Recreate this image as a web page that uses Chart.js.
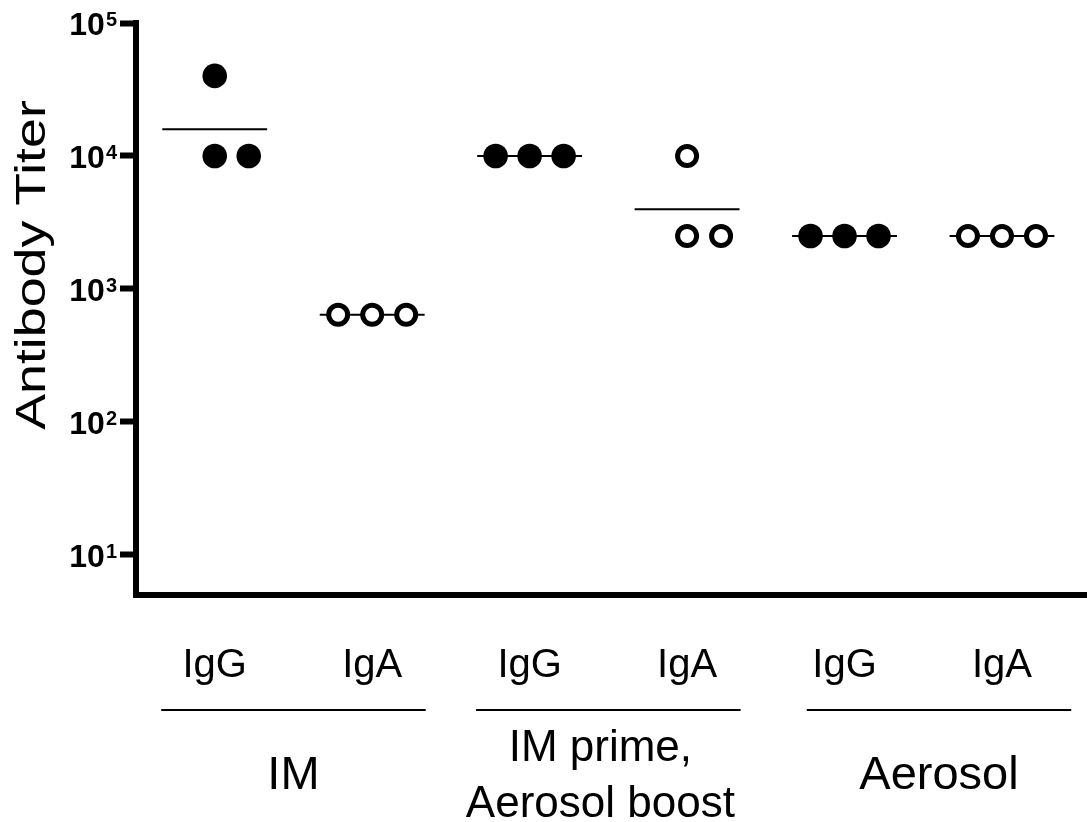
<!DOCTYPE html>
<html>
<head>
<meta charset="utf-8">
<script src="https://cdn.jsdelivr.net/npm/chart.js@4.4.1/dist/chart.umd.min.js"></script>
<style>
  html, body { margin: 0; padding: 0; background: #fff; overflow: hidden; }
  #wrap { width: 1087px; height: 822px; position: relative; }
  #c { display: block; }
</style>
</head>
<body>
<div id="wrap"><canvas id="c"></canvas></div>
<script>
// antibody titers, three animals per column
const categories = ['IgG', 'IgA', 'IgG', 'IgA', 'IgG', 'IgA'];
const groups = ['IM', 'IM prime,\nAerosol boost', 'Aerosol'];
// where each group bracket is centred, in column units
const groupMid = [0.5, 2.5, 4.6];
const titers = [
  [40000, 10000, 10000],
  [640, 640, 640],
  [10000, 10000, 10000],
  [10000, 2500, 2500],
  [2500, 2500, 2500],
  [2500, 2500, 2500]
];
// side-by-side slot of each point inside its column (-1, 0, +1)
const slots = [
  [0, 0, 1],
  [-1, 0, 1],
  [-1, 0, 1],
  [0, 0, 1],
  [-1, 0, 1],
  [-1, 0, 1]
];
const filled = [true, false, true, false, true, false];
const yTicks = [10, 100, 1000, 10000, 100000];

const FONT = '"Liberation Sans", Arial, Helvetica, sans-serif';
const SLOT = 0.216;      // x units between neighbouring points
const MEAN_HALF = 0.333; // half length of the mean bar

function geoMean(arr) {
  return Math.pow(10, arr.reduce((s, v) => s + Math.log10(v), 0) / arr.length);
}

const datasets = [];
titers.forEach((vals, i) => {
  datasets.push({
    type: 'scatter',
    data: vals.map((v, k) => ({ x: i + slots[i][k] * SLOT, y: v })),
    pointRadius: filled[i] ? 12.3 : 9.5,
    pointBorderWidth: filled[i] ? 0 : 5,
    pointBackgroundColor: filled[i] ? '#000' : '#fff',
    pointBorderColor: '#000',
    order: 0
  });
  const gm = geoMean(vals);
  datasets.push({
    type: 'line',
    data: [{ x: i - MEAN_HALF, y: gm }, { x: i + MEAN_HALF, y: gm }],
    borderColor: '#000',
    borderWidth: 2,
    pointRadius: 0,
    order: 1
  });
});

// labels, brackets and the 10^n tick text below / left of the axes
const annotations = {
  id: 'annotations',
  afterDraw(chart) {
    const { ctx, scales: { x, y } } = chart;
    const bottom = chart.chartArea.bottom;
    ctx.save();
    ctx.fillStyle = '#000';
    ctx.strokeStyle = '#000';

    // y tick labels
    yTicks.forEach(v => {
      const py = y.getPixelForValue(v);
      const exp = String(Math.round(Math.log10(v)));
      const supRight = y.right - 19;
      ctx.textAlign = 'right';
      ctx.textBaseline = 'alphabetic';
      ctx.font = 'bold 20px ' + FONT;
      const ew = ctx.measureText(exp).width;
      ctx.fillText(exp, supRight, py + 3);
      ctx.font = 'bold 32px ' + FONT;
      ctx.fillText('10', supRight - ew - 1, py + 12);
    });

    // y title (stretched along its length like the source figure)
    ctx.save();
    ctx.translate(45, 265);
    ctx.rotate(-Math.PI / 2);
    ctx.scale(1.28, 1);
    ctx.font = '42px ' + FONT;
    ctx.textAlign = 'center';
    ctx.textBaseline = 'alphabetic';
    ctx.fillText('Antibody Titer', 0, 0);
    ctx.restore();

    // column labels
    ctx.textAlign = 'center';
    ctx.textBaseline = 'alphabetic';
    ctx.font = '40px ' + FONT;
    categories.forEach((c, i) => {
      ctx.fillText(c, x.getPixelForValue(i), bottom + 82);
    });

    // group brackets + names
    ctx.lineWidth = 2;
    groups.forEach((g, gi) => {
      const mid = groupMid[gi];
      const x1 = x.getPixelForValue(mid - 0.84);
      const x2 = x.getPixelForValue(mid + 0.84);
      ctx.beginPath();
      ctx.moveTo(x1, bottom + 115);
      ctx.lineTo(x2, bottom + 115);
      ctx.stroke();
      const lines = g.split('\n');
      ctx.font = (lines.length > 1 ? '44px ' : '47px ') + FONT;
      lines.forEach((ln, k) => {
        const off = (k - (lines.length - 1) / 2) * 56;
        ctx.fillText(ln, x.getPixelForValue(mid) - (lines.length > 1 ? 8 : 0), bottom + 194 + off);
      });
    });
    ctx.restore();
  }
};

new Chart(document.getElementById('c'), {
  type: 'scatter',
  data: { datasets },
  options: {
    responsive: true,
    maintainAspectRatio: false,
    animation: false,
    events: [],
    layout: { autoPadding: false, padding: { top: 23, right: 0, left: 0, bottom: 0 } },
    plugins: { legend: { display: false }, tooltip: { enabled: false } },
    elements: { line: { tension: 0 } },
    scales: {
      x: {
        type: 'linear',
        min: -0.5,
        max: 5.54,
        grid: { display: false },
        ticks: { display: false },
        border: { display: true, width: 6, color: '#000' },
        afterFit(scale) { scale.height = 227; }
      },
      y: {
        type: 'logarithmic',
        min: 5,
        max: 100000,
        afterBuildTicks(scale) {
          scale.ticks = yTicks.map(v => ({ value: v, major: true }));
        },
        ticks: { display: false },
        grid: {
          display: true,
          drawOnChartArea: false,
          drawTicks: true,
          tickLength: 16,
          tickWidth: 6,
          tickColor: '#000'
        },
        border: { display: true, width: 6, color: '#000' },
        afterFit(scale) { scale.width = 136; }
      }
    }
  },
  plugins: [annotations]
});
</script>
</body>
</html>
